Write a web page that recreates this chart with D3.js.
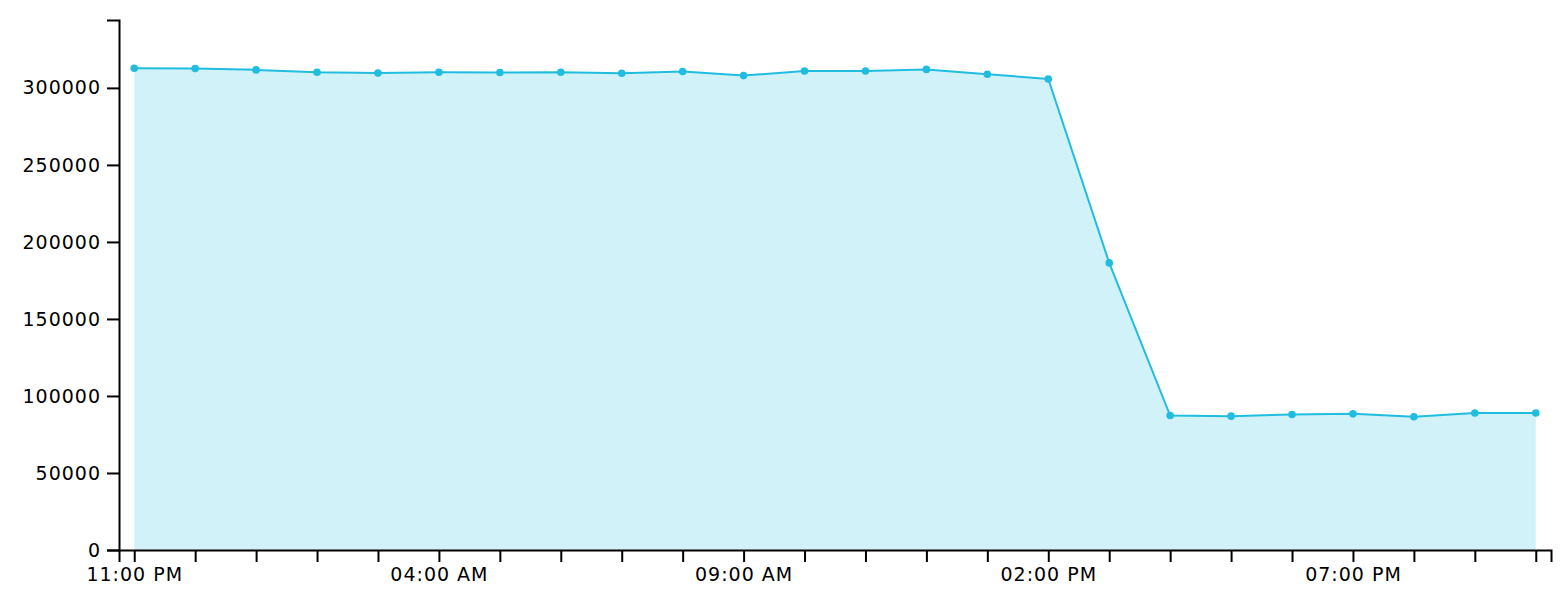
<meta charset="utf-8">
<title>Hourly count</title>
<style>
  body { margin: 0; background: #fff; }
  .axis text { font-family: "DejaVu Sans", sans-serif; font-size: 19px; letter-spacing: 1px; fill: #000; }
  .axis path, .axis line { stroke: #000; stroke-width: 2; }
</style>
<svg width="1562" height="616"></svg>
<script src="https://d3js.org/d3.v7.min.js"></script>
<script>

// hourly samples, 11 PM to 10 PM next day
var times = [
  "2017-03-14 23:00", "2017-03-15 00:00", "2017-03-15 01:00", "2017-03-15 02:00",
  "2017-03-15 03:00", "2017-03-15 04:00", "2017-03-15 05:00", "2017-03-15 06:00",
  "2017-03-15 07:00", "2017-03-15 08:00", "2017-03-15 09:00", "2017-03-15 10:00",
  "2017-03-15 11:00", "2017-03-15 12:00", "2017-03-15 13:00", "2017-03-15 14:00",
  "2017-03-15 15:00", "2017-03-15 16:00", "2017-03-15 17:00", "2017-03-15 18:00",
  "2017-03-15 19:00", "2017-03-15 20:00", "2017-03-15 21:00", "2017-03-15 22:00"
];
var values = [
  312800, 312600, 311700, 310200, 309700, 310200, 310000, 310200,
  309500, 310600, 308000, 311000, 311000, 312000, 308900, 305800,
  186400, 87300, 86900, 88000, 88400, 86500, 88900, 88900
];

var svg = d3.select("svg");
var width = +svg.attr("width");
var height = +svg.attr("height");
var margin = {top: 20, right: 11, bottom: 66, left: 119};
var w = width - margin.left - margin.right;
var h = height - margin.top - margin.bottom;
var lineColor = "#20bddf";

var parse = d3.timeParse("%Y-%m-%d %H:%M");
var data = times.map(function(t, i) {
  return { date: parse(t), value: values[i] };
});

var g = svg.append("g").attr("transform", "translate(" + margin.left + "," + margin.top + ")");

// pad the time domain by a quarter hour on each side
var x = d3.scaleTime()
  .domain([d3.timeMinute.offset(data[0].date, -15), d3.timeMinute.offset(data[data.length - 1].date, 15)])
  .range([0, w]);

var y = d3.scaleLinear()
  .domain([0, d3.max(values) * 1.1])
  .range([h, 0]);

var area = d3.area()
  .x(function(d) { return x(d.date); })
  .y0(h)
  .y1(function(d) { return y(d.value); });

var line = d3.line()
  .x(function(d) { return x(d.date); })
  .y(function(d) { return y(d.value); });

g.append("path")
  .datum(data)
  .attr("fill", lineColor)
  .attr("fill-opacity", 0.2)
  .attr("d", area);

g.append("path")
  .datum(data)
  .attr("fill", "none")
  .attr("stroke", lineColor)
  .attr("stroke-width", 2)
  .attr("d", line);

g.selectAll("circle")
  .data(data)
  .enter()
  .append("circle")
  .attr("cx", function(d) { return x(d.date); })
  .attr("cy", function(d) { return y(d.value); })
  .attr("r", 3.8)
  .attr("fill", lineColor);

var fmt = d3.timeFormat("%I:%M %p");
var xAxis = d3.axisBottom(x)
  .tickValues(data.map(function(d) { return d.date; }))
  .tickSize(12)
  .tickPadding(6)
  .tickFormat(function(d, i) { return i % 5 === 0 ? fmt(d) : ""; });

g.append("g")
  .attr("class", "axis")
  .attr("transform", "translate(0," + h + ")")
  .call(xAxis);

g.append("g")
  .attr("class", "axis")
  .call(d3.axisLeft(y).tickSize(12).tickPadding(6).tickFormat(d3.format("d")));

</script>
